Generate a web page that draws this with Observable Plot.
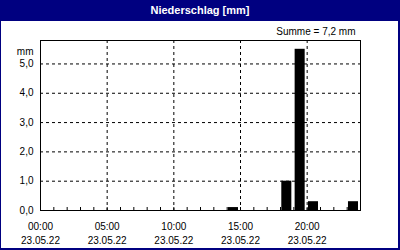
<!DOCTYPE html>
<html>
<head>
<meta charset="utf-8">
<script src="https://cdn.jsdelivr.net/npm/d3@7"></script>
<script src="https://cdn.jsdelivr.net/npm/@observablehq/plot@0.6"></script>
<style>
  html, body { margin: 0; padding: 0; background: #fff; }
  #card { position: relative; width: 400px; height: 250px; background: #000080; overflow: hidden; font-family: "Liberation Sans", Arial, sans-serif; }
  #title { position: absolute; left: 0; top: 0; width: 400px; height: 21px; line-height: 21px; text-align: center; color: #fff; font-weight: bold; font-size: 11px; }
  #plot { position: absolute; left: 1px; top: 21px; width: 397px; height: 227px; background: #fff; }
  #plot svg { display: block; }
</style>
</head>
<body>
<div id="card">
  <div id="title">Niederschlag [mm]</div>
  <div id="plot"></div>
</div>
<script>
const titleText = "Niederschlag [mm]";
const sumText = "Summe = 7,2 mm";
const unitText = "mm";
const hours = [0,1,2,3,4,5,6,7,8,9,10,11,12,13,14,15,16,17,18,19,20,21,22,23];
const precip = [0,0,0,0,0,0,0,0,0,0,0,0,0,0,0.1,0,0,0,1.0,5.5,0.3,0,0,0.3];
const xTickHours = [0,5,10,15,20];
const xTickLabels = ["00:00","05:00","10:00","15:00","20:00"];
const dateLabel = "23.05.22";
const yTicks = [0,1,2,3,4,5];
const minorHours = [0,1,2,3,4,5,6,7,8,9,10,11,12,13,14,15,16,17,18,19,20,21,22,23,24];

const data = hours.map((h, i) => ({h, v: precip[i]})).filter(d => d.v > 0);
const dash = "3,3";

const chart = Plot.plot({
  width: 397,
  height: 227,
  marginLeft: 39,
  marginRight: 38,
  marginTop: 19,
  marginBottom: 38,
  style: {fontFamily: "Liberation Sans, Arial, sans-serif", fontSize: "10px", color: "black", background: "white"},
  x: {domain: [0, 24], label: null},
  y: {domain: [0, 5.8], label: null},
  marks: [
    Plot.gridY({ticks: [1,2,3,4,5], stroke: "black", strokeOpacity: 1, strokeDasharray: dash}),
    Plot.gridX({ticks: [5,10,15,20], stroke: "black", strokeOpacity: 1, strokeDasharray: dash}),
    Plot.rectY(data, {x1: d => d.h, x2: d => d.h + 1, y: "v", fill: "black", insetLeft: 1.3, insetRight: 2}),
    Plot.frame({stroke: "black"}),
    Plot.axisY({ticks: yTicks, tickFormat: d => d.toFixed(1).replace(".", ","), tickSize: 0, tickPadding: 7, fontSize: 10}),
    Plot.axisX({ticks: xTickHours, tickFormat: (d, i) => xTickLabels[xTickHours.indexOf(d)] + "\n" + dateLabel, tickSize: 0, tickPadding: 10, lineHeight: 1.4, fontSize: 10}),
    Plot.axisX({ticks: minorHours, tickSize: -3, text: null, stroke: "black"}),
    Plot.text([unitText], {frameAnchor: "top-left", textAnchor: "end", dx: -7, dy: 7, fontSize: 10}),
    Plot.text([sumText], {frameAnchor: "top-right", textAnchor: "end", lineAnchor: "bottom", dx: -5, dy: -6, fontSize: 10})
  ]
});
document.getElementById("plot").appendChild(chart);
document.getElementById("title").textContent = titleText;
</script>
</body>
</html>
